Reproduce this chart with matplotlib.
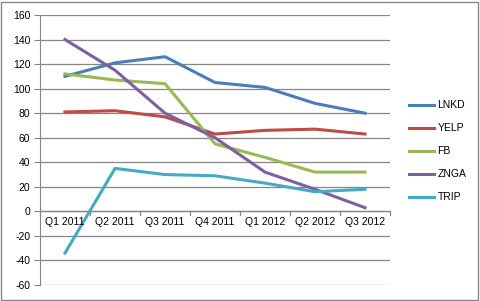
import numpy as np
import matplotlib
matplotlib.use("Agg")
from matplotlib import pyplot as plt
from matplotlib.patches import Rectangle

quarters = ["Q1 2011", "Q2 2011", "Q3 2011", "Q4 2011", "Q1 2012", "Q2 2012", "Q3 2012"]
lnkd = [110, 121, 126, 105, 101, 88, 80]
yelp = [81, 82, 77, 63, 66, 67, 63]
fb = [112, 107, 104, 55, 44, 32, 32]
znga = [140, 115, 80, 60, 32, 18, 3]
trip = [-34, 35, 30, 29, 23, 16, 18]

names = ["LNKD", "YELP", "FB", "ZNGA", "TRIP"]
series = [lnkd, yelp, fb, znga, trip]
colors = ["#4a7ebb", "#be4b48", "#98b954", "#7d60a0", "#46aac5"]

plt.rcParams['font.family'] = ['Liberation Sans', 'DejaVu Sans']
plt.rcParams['axes.unicode_minus'] = False
fig = plt.figure(figsize=(4.8, 3.01), dpi=100)
ax = fig.add_axes([40/480, 1-285/301, 350/480, 270/301])

x = np.arange(len(quarters))
for vals, name, c in zip(series, names, colors):
    ax.plot(x, vals, color=c, lw=2.2, label=name, solid_joinstyle="round")

ax.set_xlim(-0.5, len(quarters)-0.5)
ax.set_ylim(-60, 160)
ax.set_yticks(range(-60, 161, 20))
ax.yaxis.grid(True, color="#868686", lw=0.9)
ax.set_axisbelow(True)
for s in ["top", "right", "bottom"]:
    ax.spines[s].set_visible(False)
ax.spines["left"].set_color("#868686")
ax.tick_params(axis="y", length=4, color="#868686", labelsize=7.5, pad=3)
ax.set_xticks([])

# category axis drawn at y = 0
ax.axhline(0, color="#868686", lw=0.9, zorder=1)
for b in np.arange(-0.5, len(quarters), 1.0):
    ax.plot([b, b], [0, -3.3], color="#868686", lw=0.9, clip_on=False, zorder=1)
for i, q in enumerate(quarters):
    ax.text(i, -4.5, q, ha="center", va="top", fontsize=7.5, zorder=3)

leg = fig.legend(loc="upper left", bbox_to_anchor=(400/480, 1-91/301), frameon=False,
                 fontsize=7.5, handlelength=2.4, labelspacing=1.25, handletextpad=0.3)

fig.patches.append(Rectangle((0.002, 0.003), 0.994, 0.992, transform=fig.transFigure,
                             fill=False, edgecolor="#868686", lw=1))
fig.savefig("out.png", dpi=100)
